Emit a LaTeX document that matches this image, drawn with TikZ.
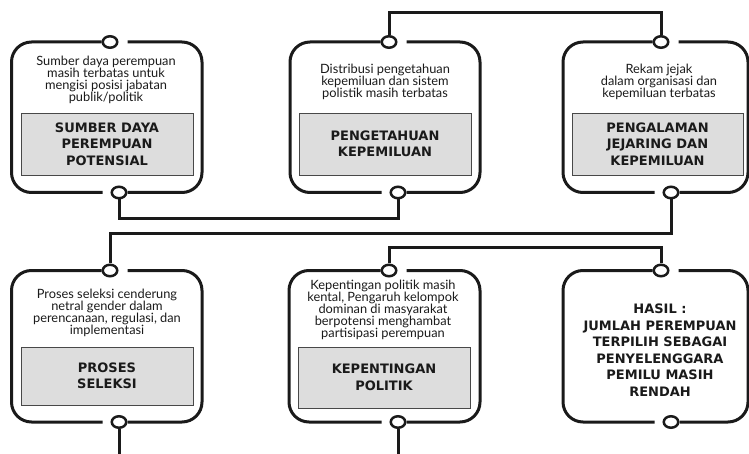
\documentclass[tikz,border=0pt]{standalone}
\usepackage{fontspec}
\setmainfont{Lato}
\newfontfamily\ttlfont{DejaVu Sans}
\usetikzlibrary{shapes.geometric}
\definecolor{boxgray}{RGB}{221,221,221}
\definecolor{ink}{RGB}{26,26,26}
\newcommand{\descfont}{\fontsize{12.8}{12.2}\selectfont\lineskiplimit=-100pt\relax}
\newcommand{\headfont}{\ttlfont\bfseries\fontsize{13}{16.5}\selectfont\lineskiplimit=-100pt\relax}
\tikzset{
  frame/.style={line width=3pt, draw=ink, rounded corners=20pt},
  ring/.style={ellipse, draw=ink, line width=2.5pt, fill=white, minimum width=14.5pt, minimum height=11.5pt, inner sep=0pt},
  link/.style={line width=3pt, draw=ink},
  desc/.style={align=center, inner sep=0pt, text=ink, font=\descfont},
  head/.style={draw=ink!80, line width=0.8pt, fill=boxgray, align=center, inner sep=0pt, text=ink, font=\headfont},
  result/.style={align=center, inner sep=0pt, text=ink, font=\headfont},
}
\newcommand{\mkframe}[7]{%
  \node[ring] (#1t) at (#6,#4) {};
  \node[ring] (#1b) at (#7,#5) {};
  \draw[frame] (#1t.west) -- (#2,#4) -- (#2,#5) -- ([xshift=-8pt]#1b.west);
  \draw[frame] (#1b.east) -- (#3,#5) -- (#3,#4) -- ([xshift=9pt]#1t.east);
}
\begin{document}
\begin{tikzpicture}[x=1pt,y=-1pt]
\useasboundingbox (0,0) rectangle (749,454);
% frames with rings
\mkframe{A}{11.5}{202}{42}{192.5}{110}{119}
\mkframe{B}{290}{480}{42}{192.5}{389}{398}
\mkframe{C}{563}{748}{42}{192.5}{661}{671}
\mkframe{D}{11.5}{202}{270.5}{422}{110}{119}
\mkframe{E}{289}{480}{270.5}{422}{389}{398}
\mkframe{F}{563}{748}{270.5}{422}{661}{671}
% connectors
\draw[link] (Ab.south) -- ++(0,19) -| (Bb.south);
\draw[link] (Bt.north) -- ++(0,-22.5) -| (Ct.north);
\draw[link] (Cb.south) -- ++(0,34.5) -| (Dt.north);
\draw[link] (Et.north) -- ++(0,-15.5) -| (Ft.north);
\coordinate (Dend) at (119,456);
\coordinate (Eend) at (398,456);
\draw[link] (Db.south) -- (Dend);
\draw[link] (Eb.south) -- (Eend);
% descriptions
\node[desc, anchor=north] (d1) at (106,55.5) {Sumber daya perempuan\\masih terbatas untuk\\mengisi posisi jabatan\\publik/politik};
\node[desc, anchor=north] (d2) at (385,63.5) {Distribusi pengetahuan\\kepemiluan dan sistem\\polistik masih terbatas};
\node[desc, anchor=north] (d3) at (659,63.5) {Rekam jejak\\dalam organisasi dan\\kepemiluan terbatas};
\node[desc, anchor=north] (d4) at (107,288.5) {Proses seleksi cenderung\\netral gender dalam\\perencanaan, regulasi, dan\\implementasi};
\node[desc, anchor=north] (d5) at (383,279.5) {Kepentingan politik masih\\kental, Pengaruh kelompok\\dominan di masyarakat\\berpotensi menghambat\\partisipasi perempuan};
% headings
\node[head, minimum width=172pt, minimum height=62pt] (h1) at (107,144) {SUMBER DAYA\\PEREMPUAN\\POTENSIAL};
\node[head, minimum width=172pt, minimum height=62pt] (h2) at (385,144) {PENGETAHUAN\\KEPEMILUAN};
\node[head, minimum width=171pt, minimum height=62pt] (h3) at (657.5,144) {PENGALAMAN\\JEJARING DAN\\KEPEMILUAN};
\node[head, minimum width=172pt, minimum height=58pt] (h4) at (107,376) {PROSES\\SELEKSI};
\node[head, minimum width=172pt, minimum height=61pt] (h5) at (384,377.5) {KEPENTINGAN\\POLITIK};
\node[result] (h6) at (660,350) {HASIL :\\JUMLAH PEREMPUAN\\TERPILIH SEBAGAI\\PENYELENGGARA\\PEMILU MASIH\\RENDAH};
\end{tikzpicture}
\end{document}
